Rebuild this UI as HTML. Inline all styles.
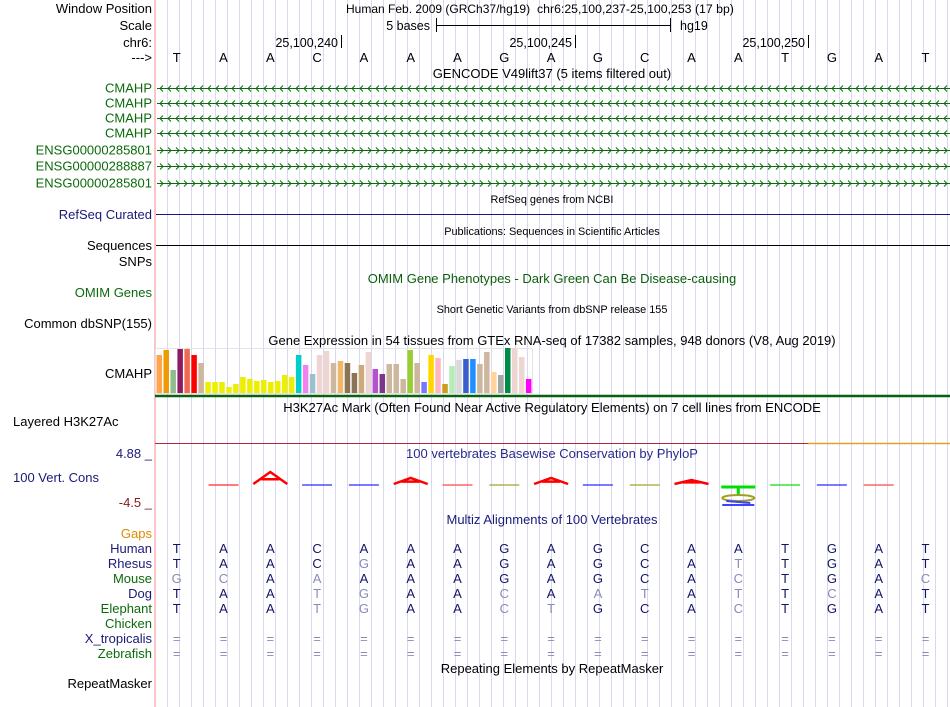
<!DOCTYPE html>
<html><head><meta charset="utf-8"><style>
html,body{margin:0;padding:0;background:#fff;}
svg{display:block;font-family:"Liberation Sans",sans-serif;}
</style></head><body>
<svg id="g" width="950" height="707" viewBox="0 0 950 707" xmlns="http://www.w3.org/2000/svg">
<g id="grid"></g>
<line x1="155" y1="0" x2="155" y2="707" stroke="#f4a0a0" stroke-width="1.2"/>
<g font-size="13" fill="#000">
<text x="152" y="13" text-anchor="end">Window Position</text>
<text x="346" y="13" font-size="12">Human Feb. 2009 (GRCh37/hg19)</text>
<text x="537" y="13" font-size="12.3">chr6:25,100,237-25,100,253 (17 bp)</text>
<text x="152" y="30" text-anchor="end">Scale</text>
<text x="430" y="30" text-anchor="end" font-size="12.5">5 bases</text>
<text x="680" y="30" font-size="12.5">hg19</text>
<text x="152" y="47" text-anchor="end">chr6:</text>
<text x="338" y="47" text-anchor="end" font-size="12.5">25,100,240</text>
<text x="572" y="47" text-anchor="end" font-size="12.5">25,100,245</text>
<text x="805" y="47" text-anchor="end" font-size="12.5">25,100,250</text>
<text x="152" y="62" text-anchor="end">---&gt;</text>
<text x="552" y="78" text-anchor="middle">GENCODE V49lift37 (5 items filtered out)</text>
</g>
<g stroke="#000" stroke-width="1">
<line x1="436.5" y1="18" x2="436.5" y2="32"/><line x1="436" y1="25.5" x2="670" y2="25.5"/><line x1="670.5" y1="18" x2="670.5" y2="32"/>
<line x1="341.5" y1="35" x2="341.5" y2="48"/><line x1="575.5" y1="35" x2="575.5" y2="48"/><line x1="808.5" y1="35" x2="808.5" y2="48"/>
</g>
<g id="bases" font-size="13" text-anchor="middle"></g>
<g id="genes"></g>
<g font-size="13">
<text x="152" y="219" text-anchor="end" fill="#1a1a7a">RefSeq Curated</text>
<text x="552" y="203" text-anchor="middle" font-size="10.9">RefSeq genes from NCBI</text>
<line x1="156" y1="214.5" x2="950" y2="214.5" stroke="#1a1a7a"/>
<text x="552" y="235" text-anchor="middle" font-size="10.9">Publications: Sequences in Scientific Articles</text>
<text x="152" y="250" text-anchor="end">Sequences</text>
<line x1="156" y1="245.5" x2="950" y2="245.5" stroke="#000"/>
<text x="152" y="266" text-anchor="end">SNPs</text>
<text x="552" y="283" text-anchor="middle" fill="#0b5e0b">OMIM Gene Phenotypes - Dark Green Can Be Disease-causing</text>
<text x="152" y="297" text-anchor="end" fill="#0b6b0b">OMIM Genes</text>
<text x="552" y="313" text-anchor="middle" font-size="10.9">Short Genetic Variants from dbSNP release 155</text>
<text x="152" y="328" text-anchor="end">Common dbSNP(155)</text>
<text x="552" y="345" text-anchor="middle">Gene Expression in 54 tissues from GTEx RNA-seq of 17382 samples, 948 donors (V8, Aug 2019)</text>
<text x="152" y="378" text-anchor="end">CMAHP</text>
<text x="552" y="412" text-anchor="middle">H3K27Ac Mark (Often Found Near Active Regulatory Elements) on 7 cell lines from ENCODE</text>
<text x="13" y="426">Layered H3K27Ac</text>
<text x="152" y="458" text-anchor="end" fill="#1a1a7a">4.88 _</text>
<text x="552" y="458" text-anchor="middle" fill="#2a2a8a">100 vertebrates Basewise Conservation by PhyloP</text>
<text x="13" y="482" fill="#1a1a7a">100 Vert. Cons</text>
<text x="152" y="507" text-anchor="end" fill="#8a1a1a">-4.5 _</text>
<text x="552" y="524" text-anchor="middle" fill="#1a1a7a">Multiz Alignments of 100 Vertebrates</text>
<text x="152" y="538" text-anchor="end" fill="#e08a00">Gaps</text>
<text x="552" y="673" text-anchor="middle">Repeating Elements by RepeatMasker</text>
<text x="152" y="688" text-anchor="end">RepeatMasker</text>
</g>
<rect x="155.5" y="348.5" width="377" height="45" fill="none" stroke="#e4e4e4"/>
<g id="gtex"></g>
<line x1="155" y1="396" x2="950" y2="396" stroke="#0b6010" stroke-width="2.5"/>
<line x1="155" y1="443.5" x2="808" y2="443.5" stroke="#b02840"/>
<line x1="808" y1="443.5" x2="950" y2="443.5" stroke="#e0a030" stroke-width="1.5"/>
<g id="logo"></g>
<g id="aln" font-size="13"></g>
</svg>
<script>
const bases = ["T","A","A","C","A","A","A","G","A","G","C","A","A","T","G","A","T"];
const species = ["Human","Rhesus","Mouse","Dog","Elephant","Chicken","X_tropicalis","Zebrafish"];
const speciesGreen = [false,false,true,false,true,true,false,true];
const alignSeqs = [
 "TAACAAAGAGCAATGAT",
 "TAACGAAGAGCATTGAT",
 "GCAAAAAGAGCACTGAC",
 "TAATGAACAATATTCAT",
 "TAATGAACTGCACTGAT",
 "",
 "=================",
 "================="];
const gtexValues = [38,43,23,44,44,38,30,11,11,11,6,9,16,14,12,13,11,12,18,16,38,28,19,38,42,30,32,30,20,28,41,24,19,29,29,14,43,30,11,38,35,9,27,33,34,34,29,41,21,18,45,45,36,14];
const gtexColors = ["#FFA54F","#EE9A00","#8FBC8F","#8B1C62","#EE6A50","#FF0000","#CDB79E","#EEEE00","#EEEE00","#EEEE00","#EEEE00","#EEEE00","#EEEE00","#EEEE00","#EEEE00","#EEEE00","#EEEE00","#EEEE00","#EEEE00","#EEEE00","#00CDCD","#EE82EE","#9AC0CD","#EED5D2","#EED5D2","#CDB79E","#EEB76A","#8B7355","#8B7355","#CDAA7D","#EED5D2","#B452CD","#7A378B","#CDB79E","#CDB79E","#CDB79E","#9ACD32","#CDB79E","#7777FF","#FFD700","#FFB6C1","#CD9B1D","#B4EEB4","#D9D9D9","#3A5FCD","#1E90FF","#CDB79E","#CDB79E","#FFD39B","#A6A6A6","#008B45","#EED5D2","#EED5D2","#FF00FF"];
const NS="http://www.w3.org/2000/svg";
function mk(tag,attrs,parent){const e=document.createElementNS(NS,tag);for(const k in attrs)e.setAttribute(k,attrs[k]);parent.appendChild(e);return e;}
const baseX = i => 176.7 + 46.8*i;
const grid=document.getElementById('grid');
for(let x=167.5;x<950;x+=12){const l=mk('line',{x1:x,y1:0,x2:x,y2:707,stroke:'#d8d8f4','stroke-width':1},grid);

}
const bg=document.getElementById('bases');
bases.forEach((b,i)=>{const t=mk('text',{x:baseX(i),y:62},bg);t.textContent=b;

});
const genes=[["CMAHP",88,-1],["CMAHP",103,-1],["CMAHP",118,-1],["CMAHP",133,-1],["ENSG00000285801",150,1],["ENSG00000288887",166,1],["ENSG00000285801",183,1]];
const gg=document.getElementById('genes');
genes.forEach(g=>{const t=mk('text',{x:152,y:g[1]+4.5,'text-anchor':'end','font-size':13,fill:'#0b6b0b'},gg);t.textContent=g[0];


const y=g[1]+0.5;
let d='M157,'+y+' L950,'+y;
for(let x=160;x<948;x+=8){
 if(g[2]<0) d+=' M'+(x+3)+','+(y-3)+' L'+x+','+y+' L'+(x+3)+','+(y+3);
 else d+=' M'+x+','+(y-3)+' L'+(x+3)+','+y+' L'+x+','+(y+3);
}
const p=mk('path',{d:d,fill:'none',stroke:'#0b6b0b','stroke-width':1},gg);

});
const gt=document.getElementById('gtex');
const gy0=393, gx0=156.5, gstep=6.97;
gtexValues.forEach((v,i)=>{const r=mk('rect',{x:gx0+i*gstep,y:gy0-v,width:5.5,height:v,fill:gtexColors[i]},gt);

});
const logo=document.getElementById('logo');
const glyphs=[[1,'dash','#ff2020',0],[2,'A','#ff0000',12],[3,'dash','#2020ff',0],[4,'dash','#2020ff',0],[5,'A','#ff0000',6],[6,'dash','#ff4040',0],[7,'dash','#a0a020',0],[8,'A','#ff0000',6],[9,'dash','#2020ff',0],[10,'dash','#a0a020',0],[11,'A','#ff0000',4],[13,'dash','#00e000',0],[14,'dash','#2020ff',0],[15,'dash','#ff4040',0]];
glyphs.forEach(g=>{const cx=baseX(g[0]);let e;
 if(g[1]==='A'){e=mk('path',{d:'M'+(cx-17)+',484 L'+cx+','+(484-g[3])+' L'+(cx+17)+',484 M'+(cx-9)+','+(484-g[3]*0.4)+' L'+(cx+9)+','+(484-g[3]*0.4),fill:'none',stroke:g[2],'stroke-width':2.5},logo);}
 else{e=mk('line',{x1:cx-15,y1:485,x2:cx+15,y2:485,stroke:g[2],'stroke-width':1.5,'stroke-opacity':0.8},logo);}
 
 });
{const cx=baseX(12);const e=mk('path',{d:'M'+(cx-17)+',487 L'+(cx+17)+',487 M'+cx+',487 L'+cx+',495',stroke:'#00e000','stroke-width':3,fill:'none'},logo);


const e2=mk('ellipse',{cx:cx,cy:498,rx:16,ry:3,fill:'none',stroke:'#a0a020','stroke-width':2},logo);


const e3=mk('path',{d:'M'+(cx-16)+',505 L'+(cx+16)+',505 M'+(cx-12)+',501 L'+(cx+12)+',503',stroke:'#4040ff','stroke-width':2,fill:'none'},logo);

}
const al=document.getElementById('aln');
species.forEach((s,k)=>{const y=553+15*k;
 const t=mk('text',{x:152,y:y,'text-anchor':'end',fill:speciesGreen[k]?'#0b6b0b':'#1a1a7a'},al);t.textContent=s;
 
 
 const seq=alignSeqs[k];
 for(let i=0;i<seq.length;i++){const c=seq[i];const same=(c===bases[i]);
  const tt=mk('text',{x:baseX(i),y:y,'text-anchor':'middle',fill:same?'#141466':'#8a8ab8'},al);tt.textContent=c;
  
  }
});
</script>
</body></html>
